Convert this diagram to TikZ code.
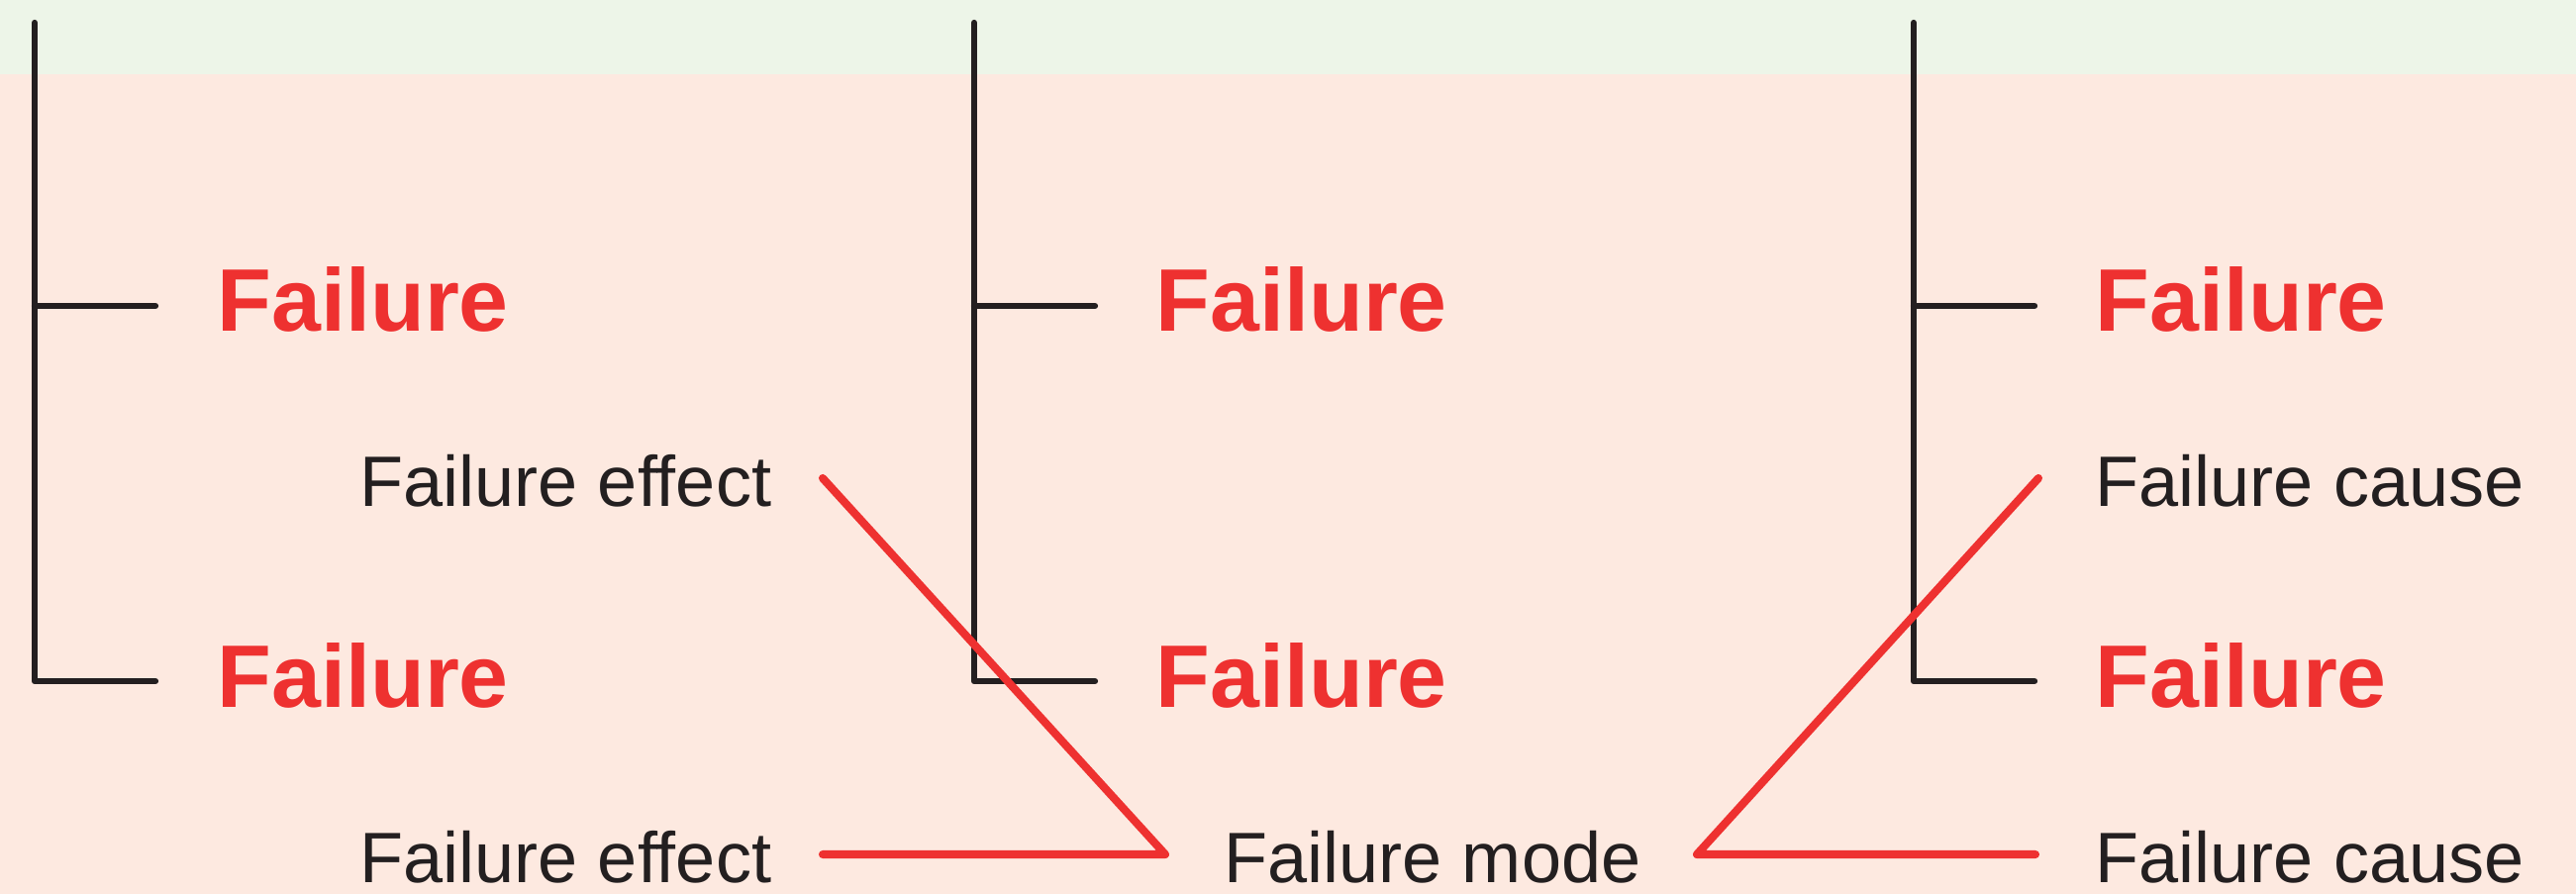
\documentclass[tikz,border=0pt]{standalone}
\usepackage{fontspec}
\setmainfont{Liberation Sans}
\definecolor{bgpink}{HTML}{FDE9E0}
\definecolor{bggreen}{HTML}{EDF5E8}
\definecolor{fred}{HTML}{EE3130}
\definecolor{fblack}{HTML}{231F20}
\begin{document}
\begin{tikzpicture}[x=0.01cm,y=-0.01cm,
  tree/.style={draw=fblack,line width=1.8pt,line cap=round,line join=round},
  link/.style={draw=fred,line width=2.3pt,line cap=round,line join=round},
  big/.style={anchor=base west,inner sep=0pt,text=fred,font=\fontsize{25.5pt}{30pt}\selectfont\bfseries},
  small/.style={anchor=base west,inner sep=0pt,text=fblack,font=\fontsize{20.5pt}{24pt}\selectfont}]
\useasboundingbox (0,0) rectangle (2602,903);
\fill[bgpink] (0,0) rectangle (2602,903);
\fill[bggreen] (0,0) rectangle (2602,75);
% column trees
\foreach \x/\n in {35/a,984/b,1933/c}{
  \coordinate (top\n) at (\x,23);
  \coordinate (mid\n) at (\x,309);
  \coordinate (bot\n) at (\x,688);
  \coordinate (midE\n) at (\x+122,309);
  \coordinate (botE\n) at (\x+122,688);
  \draw[tree] (top\n) -- (bot\n) -- (botE\n);
  \draw[tree] (mid\n) -- (midE\n);
}
% Failure labels
\node[big] (fa1) at (219,334) {Failure};
\node[big] (fa2) at (219,714) {Failure};
\node[big] (fb1) at (1167,334) {Failure};
\node[big] (fb2) at (1167,714) {Failure};
\node[big] (fc1) at (2116,334) {Failure};
\node[big] (fc2) at (2116,714) {Failure};
% small labels
\node[small] (eff1) at (363,511) {Failure effect};
\node[small] (eff2) at (363,891) {Failure effect};
\node[small] (mode) at (1236,891) {Failure mode};
\node[small] (cau1) at (2116,511) {Failure cause};
\node[small] (cau2) at (2116,891) {Failure cause};
% red links
\coordinate (e1) at (831,483);
\coordinate (e2) at (831,863);
\coordinate (m1) at (1177,863);
\coordinate (m2) at (1714,863);
\coordinate (c1) at (2059,483);
\coordinate (c2) at (2056,863);
\draw[link] (e1) -- (m1) -- (e2);
\draw[link] (c1) -- (m2) -- (c2);
\end{tikzpicture}
\end{document}
